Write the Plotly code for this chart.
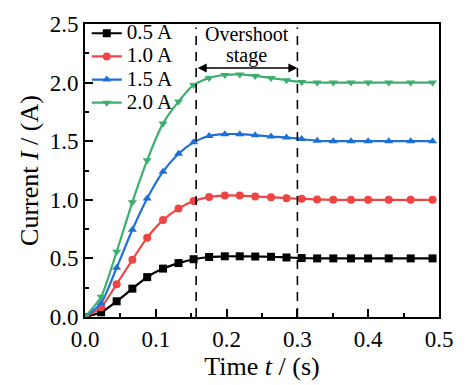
import plotly.graph_objects as go

# time samples (s)
t = [0, 0.0228, 0.0447, 0.0669, 0.0878, 0.1102, 0.1321, 0.1534, 0.1753, 0.1975,
     0.2186, 0.2404, 0.2627, 0.2846, 0.306, 0.3279, 0.3507, 0.3757, 0.3999, 0.429,
     0.46, 0.4909]

i_05 = [0, 0.04, 0.134, 0.242, 0.34, 0.413, 0.46, 0.493, 0.512, 0.518, 0.518, 0.516,
        0.514, 0.508, 0.503, 0.5, 0.5, 0.5, 0.5, 0.5, 0.5, 0.5]
i_10 = [0, 0.084, 0.28, 0.488, 0.677, 0.827, 0.925, 0.989, 1.023, 1.036, 1.036, 1.028,
        1.022, 1.014, 1.008, 1.003, 1.0, 1.0, 1.0, 1.0, 1.0, 1.0]
i_15 = [0, 0.118, 0.42, 0.744, 1.011, 1.24, 1.393, 1.49, 1.545, 1.56, 1.56, 1.551,
        1.54, 1.532, 1.518, 1.504, 1.5, 1.5, 1.5, 1.5, 1.5, 1.5]
i_20 = [0, 0.173, 0.557, 0.98, 1.337, 1.652, 1.838, 1.98, 2.04, 2.065, 2.07, 2.057,
        2.04, 2.02, 2.005, 2.0, 2.0, 2.0, 2.0, 2.0, 2.0, 2.0]

labels = ["0.5 A", "1.0 A", "1.5 A", "2.0 A"]
series = [i_05, i_10, i_15, i_20]
colors = ["#000000", "#EF4444", "#1F6FD8", "#3DAE6E"]
symbols = ["square", "circle", "triangle-up", "triangle-down"]

stage_start, stage_end = 0.157, 0.3
arrow_y = 2.125
note_lines = ["Overshoot", "stage"]
note_y = [2.415, 2.228]

FONT = "Liberation Serif, Times New Roman, serif"

fig = go.Figure()
for lab, ys, c, s in zip(labels, series, colors, symbols):
    fig.add_trace(go.Scatter(
        x=t, y=ys, name='<span style="font-size:21px">' + lab + '</span>',
        mode="lines+markers",
        line=dict(color=c, width=2.2, shape="spline", smoothing=0.6),
        marker=dict(symbol=s, size=8, color=c),
    ))

for xv in (stage_start, stage_end):
    fig.add_shape(type="line", x0=xv, x1=xv, y0=0, y1=2.47, xref="x", yref="y",
                  line=dict(color="black", width=1.6, dash="9px,7px"))

fig.add_annotation(x=stage_end, y=arrow_y, ax=stage_start, ay=arrow_y,
                   xref="x", yref="y", axref="x", ayref="y", text="",
                   showarrow=True, arrowside="end+start", arrowhead=2,
                   arrowsize=1.2, arrowwidth=1.5, arrowcolor="black")
for txt, yv in zip(note_lines, note_y):
    fig.add_annotation(x=(stage_start + stage_end) / 2, y=yv, xref="x", yref="y",
                       text=txt, showarrow=False,
                       font=dict(family=FONT, size=20, color="black"))

axis_common = dict(
    showline=True, linecolor="black", linewidth=2, mirror=True,
    ticks="inside", ticklen=8, tickwidth=1.5, tickcolor="black",
    showgrid=False, zeroline=False, ticklabeloverflow="allow",
    tickfont=dict(family=FONT, size=23, color="black"),
)
fig.update_xaxes(range=[0, 0.5], dtick=0.1, tickformat=".1f",
                 title=dict(text="Time <i>t</i> / (s)", font=dict(family=FONT, size=26, color="black"), standoff=2),
                 minor=dict(ticks="inside", ticklen=4, tickwidth=1.5, tickcolor="black", dtick=0.05),
                 **axis_common)
fig.update_yaxes(range=[0, 2.5], dtick=0.5, tickformat=".1f",
                 title=dict(text="Current <i>I</i> / (A)", font=dict(family=FONT, size=26, color="black"), standoff=4),
                 minor=dict(ticks="inside", ticklen=4, tickwidth=1.5, tickcolor="black", dtick=0.25),
                 **axis_common)

fig.update_layout(
    width=465, height=385,
    margin=dict(l=85, r=14, t=17, b=68),
    plot_bgcolor="white", paper_bgcolor="white",
    font=dict(family=FONT, color="black"),
    legend=dict(x=0.005, y=1.025, xanchor="left", yanchor="top",
                bgcolor="rgba(0,0,0,0)", borderwidth=0,
                font=dict(family=FONT, size=15.5, color="black"),
                tracegroupgap=0),
    showlegend=True,
)

fig.write_html("out.html")
